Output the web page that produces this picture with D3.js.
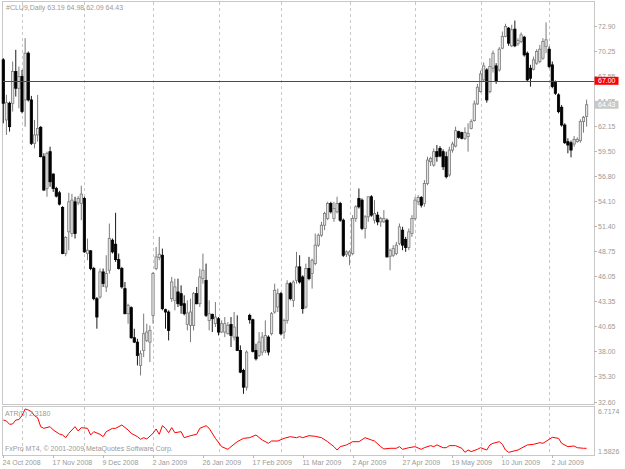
<!DOCTYPE html>
<html>
<head>
<meta charset="utf-8">
<script src="https://cdn.jsdelivr.net/npm/d3@7"></script>
<style>
  html, body { margin: 0; padding: 0; background: #fff; }
  svg { display: block; font-family: "Liberation Sans", Arial, sans-serif; }
</style>
</head>
<body>
<svg id="chart" width="625" height="469"></svg>
<script>
(function () {
  "use strict";

  // ---- data (one entry per daily bar) ----
  var symbol = "#CLU9,Daily";
  var opens = [
    69.25, 62.80, 64.59, 64.59, 67.99, 66.20, 67.46, 64.95, 69.96, 64.95,
    60.29, 61.19, 62.01, 58.86, 55.45, 59.40, 57.00, 55.45, 54.99, 53.41,
    48.47, 50.80, 50.62, 54.02, 53.91, 53.84, 54.38, 48.47, 48.76, 46.86,
    43.63, 43.81, 46.50, 44.89, 46.68, 49.90, 49.47, 47.82, 46.86, 44.71,
    42.02, 42.67, 39.44, 38.97, 36.47, 38.08, 39.15, 38.97, 41.84, 46.86,
    48.04, 48.29, 42.45, 42.20, 43.63, 43.45, 44.35, 44.17, 43.09, 40.88,
    40.76, 40.76, 44.17, 43.09, 45.78, 45.60, 41.30, 41.95, 40.95, 41.48,
    40.05, 40.05, 39.87, 40.87, 39.51, 39.51, 38.08, 35.93, 34.14, 41.84,
    41.37, 38.08, 37.54, 37.90, 38.08, 39.51, 39.87, 42.20, 42.74, 44.17,
    40.05, 41.30, 45.24, 43.45, 45.60, 47.04, 45.96, 42.74, 46.86, 46.32,
    47.39, 49.37, 50.44, 51.51, 52.23, 53.84, 52.23, 52.95, 53.84, 52.05,
    48.40, 48.29, 48.47, 52.23, 54.38, 54.20, 51.16, 52.41, 54.56, 52.05,
    52.59, 51.87, 51.87, 52.05, 48.18, 48.29, 48.47, 49.54, 50.98, 49.97,
    49.11, 50.62, 52.23, 54.02, 54.49, 53.84, 55.99, 58.32, 57.96, 59.40,
    59.75, 59.40, 58.86, 56.89, 59.57, 60.00, 61.54, 61.44, 60.83, 61.01,
    61.90, 62.73, 64.52, 65.84, 67.10, 68.17, 65.84, 68.35, 68.60, 68.17,
    70.50, 71.75, 72.65, 70.75, 72.54, 70.97, 71.22, 71.68, 69.96, 68.35,
    68.24, 68.89, 69.07, 69.43, 70.68, 70.39, 68.71, 66.81, 65.49, 64.16,
    62.26, 60.47, 60.36, 60.22, 60.47, 60.58, 62.62, 63.19
  ];
  var highs = [
    69.43, 65.49, 64.77, 69.07, 70.32, 68.53, 68.17, 71.57, 70.14, 65.38,
    62.80, 65.49, 62.15, 59.22, 59.40, 59.93, 57.07, 55.63, 55.20, 53.56,
    50.33, 54.99, 54.88, 54.56, 54.63, 55.74, 54.56, 50.08, 48.83, 47.04,
    43.81, 46.86, 46.86, 48.29, 51.69, 50.08, 52.84, 48.47, 47.04, 45.42,
    43.09, 42.81, 40.41, 39.33, 38.08, 42.02, 40.94, 40.76, 46.50, 49.18,
    50.26, 49.00, 42.56, 42.38, 45.96, 45.78, 45.78, 45.06, 43.99, 43.45,
    43.63, 44.35, 44.89, 46.86, 48.47, 47.39, 43.45, 42.02, 43.27, 41.66,
    41.30, 41.66, 41.12, 41.66, 42.20, 41.84, 38.62, 36.11, 38.08, 42.02,
    41.48, 38.80, 40.05, 40.05, 41.30, 39.69, 42.20, 45.24, 44.71, 44.35,
    41.48, 45.60, 45.42, 45.60, 48.65, 48.29, 46.14, 47.39, 48.11, 47.93,
    50.62, 50.62, 51.87, 52.95, 54.02, 54.02, 54.02, 54.56, 54.02, 52.23,
    48.82, 48.82, 52.59, 53.66, 55.45, 54.38, 52.59, 54.56, 54.74, 54.20,
    52.95, 52.41, 53.13, 52.23, 49.00, 49.36, 49.72, 51.69, 51.34, 50.26,
    51.16, 52.59, 54.56, 54.74, 54.63, 56.35, 58.86, 58.86, 59.75, 60.11,
    60.00, 59.65, 59.40, 59.93, 60.47, 62.08, 61.65, 61.54, 62.01, 62.44,
    62.87, 64.88, 66.67, 68.10, 68.96, 68.35, 69.43, 70.25, 68.89, 70.61,
    72.29, 73.12, 72.76, 73.01, 73.47, 71.57, 72.18, 71.83, 70.14, 68.71,
    69.60, 70.39, 70.86, 71.57, 73.26, 70.68, 69.07, 67.03, 65.66, 64.41,
    62.44, 60.83, 60.58, 61.08, 60.94, 62.87, 63.23, 64.98
  ];
  var lows = [
    62.44, 61.19, 61.55, 63.70, 65.31, 64.05, 63.51, 62.08, 64.77, 60.11,
    59.75, 60.47, 58.79, 55.20, 54.56, 55.63, 55.09, 54.49, 53.63, 48.40,
    48.18, 48.83, 50.26, 50.08, 53.66, 52.05, 48.54, 47.75, 46.68, 43.45,
    40.41, 43.63, 44.89, 44.35, 46.32, 48.47, 47.57, 46.75, 44.71, 41.95,
    40.94, 39.33, 38.87, 36.47, 35.39, 37.36, 38.97, 36.83, 40.94, 46.68,
    47.75, 42.38, 40.41, 39.15, 43.28, 42.38, 42.74, 42.02, 41.84, 40.23,
    38.97, 40.23, 43.02, 42.74, 45.24, 41.66, 40.23, 40.05, 40.59, 39.69,
    39.94, 39.51, 39.80, 38.44, 39.15, 38.01, 35.64, 33.42, 33.78, 40.95,
    37.86, 37.00, 37.36, 37.54, 37.79, 37.54, 39.69, 42.02, 42.20, 39.69,
    39.33, 40.95, 43.45, 42.74, 45.24, 45.24, 42.02, 42.56, 45.60, 44.71,
    47.21, 49.18, 50.26, 50.98, 52.05, 52.77, 51.87, 52.77, 51.87, 48.11,
    48.11, 47.21, 48.29, 51.87, 53.30, 50.98, 50.08, 51.87, 52.41, 51.69,
    51.51, 51.34, 51.76, 48.04, 46.68, 48.11, 48.29, 49.36, 48.83, 48.65,
    48.83, 50.26, 52.05, 53.66, 53.41, 53.49, 55.81, 57.85, 57.78, 58.32,
    58.79, 57.43, 56.53, 56.71, 59.29, 59.86, 60.79, 60.72, 60.65, 59.40,
    61.79, 62.62, 64.41, 65.74, 66.92, 64.66, 65.66, 67.89, 66.67, 67.99,
    70.39, 71.68, 70.75, 70.61, 70.61, 70.75, 71.04, 69.60, 66.92, 66.38,
    68.10, 68.71, 68.89, 69.25, 69.96, 68.35, 66.20, 65.49, 63.51, 62.08,
    60.22, 59.22, 58.79, 59.93, 60.36, 60.36, 61.44, 62.09
  ];
  var closes = [
    64.59, 64.66, 62.08, 67.99, 66.20, 67.46, 63.70, 69.96, 64.95, 60.29,
    61.19, 61.90, 58.86, 55.28, 59.22, 56.17, 55.45, 54.63, 53.77, 48.47,
    50.19, 54.02, 54.20, 50.62, 54.38, 54.85, 48.65, 48.83, 46.86, 43.63,
    41.66, 46.50, 45.25, 46.32, 50.08, 48.65, 47.82, 46.86, 44.89, 42.02,
    42.92, 39.44, 38.97, 37.54, 37.72, 39.87, 40.05, 40.23, 46.32, 48.11,
    48.40, 42.56, 42.20, 40.23, 45.42, 44.89, 43.09, 42.92, 42.02, 42.10,
    42.20, 44.17, 43.09, 45.96, 46.68, 41.84, 42.02, 41.48, 41.66, 40.05,
    40.95, 40.95, 40.77, 39.69, 40.59, 38.08, 35.75, 34.14, 37.90, 41.37,
    37.97, 37.18, 38.98, 39.51, 39.69, 37.90, 42.02, 44.53, 44.17, 39.87,
    41.30, 45.24, 43.63, 45.42, 47.04, 45.42, 42.56, 46.86, 45.78, 47.75,
    49.37, 50.44, 51.51, 52.77, 53.84, 52.95, 53.30, 53.84, 52.05, 48.29,
    48.65, 48.65, 52.23, 53.48, 53.48, 51.16, 52.41, 54.56, 52.59, 52.77,
    51.87, 52.23, 52.23, 48.11, 48.82, 49.00, 49.37, 51.34, 49.37, 49.11,
    50.80, 52.23, 54.20, 54.49, 53.66, 55.99, 58.50, 58.68, 59.40, 58.86,
    58.93, 57.78, 56.71, 59.57, 60.22, 61.65, 60.94, 60.83, 61.44, 61.37,
    62.62, 64.52, 66.31, 67.74, 68.60, 64.95, 68.53, 69.96, 66.92, 70.39,
    71.75, 72.83, 71.04, 72.47, 70.75, 71.32, 71.93, 69.78, 67.10, 67.28,
    69.25, 70.14, 70.39, 71.22, 71.40, 68.53, 66.38, 65.66, 63.69, 62.26,
    60.36, 60.11, 59.57, 60.72, 60.72, 62.62, 63.09, 64.43
  ];

  var dateLabels = ["24 Oct 2008", "17 Nov 2008", "9 Dec 2008", "2 Jan 2009",
    "26 Jan 2009", "17 Feb 2009", "11 Mar 2009", "2 Apr 2009", "27 Apr 2009",
    "19 May 2009", "10 Jun 2009", "2 Jul 2009"];
  var dateLabelBars = [0, 16, 32, 48, 64, 80, 96, 112, 128, 144, 160, 176];
  var monthStartBars = [6, 26, 48, 69, 89, 111, 132, 153, 175];

  var priceTicks = [72.90, 70.25, 67.55, 64.85, 62.15, 59.50, 56.80, 54.10,
    51.40, 48.75, 46.05, 43.35, 40.65, 38.00, 35.30, 32.60];
  var levelLine = 67.00;

  // ATR(8) line, read at the bars where it turns
  var atrBars = [0, 1, 2, 3, 4, 5, 6, 7, 8, 9, 10, 11, 12, 13, 15, 16, 18, 19, 20, 21,
    23, 24, 25, 27, 28, 29, 31, 32, 33, 35, 36, 38, 40, 41, 43, 44, 45, 46, 48, 49,
    50, 51, 52, 53, 54, 55, 57, 58, 60, 62, 63, 65, 66, 68, 70, 72, 73, 75, 77, 79,
    81, 83, 85, 86, 88, 90, 92, 94, 95, 96, 98, 100, 102, 104, 106, 107, 108, 110, 112, 114,
    116, 118, 119, 121, 122, 124, 126, 127, 128, 130, 132, 134, 135, 137, 138, 139, 141, 142, 143, 145,
    147, 148, 149, 150, 152, 153, 155, 156, 157, 159, 160, 161, 162, 165, 166, 168, 170, 172, 173, 175,
    176, 178, 179, 181, 183, 184, 186, 187];
  var atrValues = [5.35, 5.24, 4.85, 4.89, 5.35, 5.40, 5.86, 6.64, 6.52, 6.33, 5.86, 5.62, 4.57, 4.38, 4.57, 4.19, 3.72, 3.60, 3.29, 3.80,
    4.57, 4.07, 4.46, 4.38, 3.60, 3.99, 3.68, 3.41, 3.99, 4.38, 4.38, 4.77, 4.19, 3.80, 3.41, 3.10, 3.29, 3.13, 3.80, 4.30,
    3.68, 4.69, 4.38, 3.87, 4.46, 3.87, 3.99, 3.29, 3.52, 3.68, 4.38, 4.69, 4.38, 3.21, 2.24, 1.93, 2.24, 2.82, 3.21, 3.29,
    3.60, 3.02, 2.63, 2.90, 2.90, 3.21, 3.41, 3.29, 3.41, 3.29, 3.52, 3.45, 3.29, 2.82, 2.24, 1.85, 2.24, 2.44, 2.82, 2.82,
    3.29, 3.02, 2.90, 2.24, 1.97, 2.05, 2.05, 2.24, 1.93, 2.12, 2.24, 1.93, 2.12, 2.36, 2.24, 2.44, 2.12, 2.12, 2.36, 2.36,
    2.05, 1.58, 1.85, 1.66, 1.93, 2.12, 1.85, 2.44, 2.63, 2.82, 2.51, 1.85, 1.58, 1.85, 2.05, 2.44, 2.51, 2.71, 2.63, 3.10,
    3.33, 3.21, 2.63, 2.24, 2.32, 2.12, 2.05, 2.05];
  var atrMax = 6.7174;
  var atrMin = 1.5826;
  var atrCurrent = 2.3180;

  // ---- layout ----
  var W = 625, H = 469;
  var L = 2, R = 594;
  var mainTop = 1, mainBottom = 404;
  var subTop = 406, subBottom = 455;
  var textColor = "#9a9a9a";
  var frameColor = "#c8c8c8";

  var svg = d3.select("#chart");
  svg.append("rect").attr("width", W).attr("height", H).attr("fill", "#fff");

  var x = d3.scaleLinear().domain([0, opens.length - 1]).range([3.3, 586.6]);
  var y = d3.scaleLinear().domain([32.6, 72.9]).range([401.5, 25.8]);
  var ya = d3.scaleLinear().domain([atrMin, atrMax]).range([452.3, 408.3]);

  // frames
  svg.append("rect")
    .attr("x", L + 0.5).attr("y", mainTop + 0.5)
    .attr("width", R - L).attr("height", mainBottom - mainTop)
    .attr("fill", "none").attr("stroke", frameColor);
  svg.append("rect")
    .attr("x", L + 0.5).attr("y", subTop + 0.5)
    .attr("width", R - L).attr("height", subBottom - subTop)
    .attr("fill", "none").attr("stroke", frameColor);

  // vertical grid at month starts, in both windows
  var grid = svg.append("g").attr("stroke", "#c8c8c8").attr("stroke-dasharray", "3,3");
  monthStartBars.forEach(function (b) {
    var gx = Math.round(x(b)) + 0.5;
    grid.append("line").attr("x1", gx).attr("x2", gx).attr("y1", mainTop + 1).attr("y2", mainBottom);
    grid.append("line").attr("x1", gx).attr("x2", gx).attr("y1", subTop + 1).attr("y2", subBottom);
  });

  // candles
  var bars = d3.range(opens.length).map(function (i) {
    return { i: i, o: opens[i], h: highs[i], l: lows[i], c: closes[i] };
  });
  var candles = svg.append("g").selectAll("g").data(bars).enter().append("g");
  candles.append("line")
    .attr("x1", function (d) { return x(d.i); })
    .attr("x2", function (d) { return x(d.i); })
    .attr("y1", function (d) { return y(d.h); })
    .attr("y2", function (d) { return y(d.l); })
    .attr("stroke", function (d) { return d.c >= d.o ? "#7a7a7a" : "#1a1a1a"; })
    .attr("stroke-width", 1);
  candles.append("rect")
    .attr("x", function (d) { return x(d.i) - 1.15; })
    .attr("width", 2.3)
    .attr("y", function (d) { return y(Math.max(d.o, d.c)); })
    .attr("height", function (d) { return Math.max(0.8, Math.abs(y(d.o) - y(d.c))); })
    .attr("fill", function (d) { return d.c >= d.o ? "#e4e4e4" : "#000"; })
    .attr("stroke", function (d) { return d.c >= d.o ? "#7a7a7a" : "#000"; })
    .attr("stroke-width", 0.8);

  // level line, drawn over the candles like the terminal does
  var levelY = Math.round(y(levelLine)) + 0.5;
  svg.append("path")
    .attr("d", "M" + (L + 1) + "," + levelY + "H" + R)
    .style("stroke", "rgb(255,0,0)")
    .style("stroke-width", "1px")
    .style("fill", "none")
    .attr("shape-rendering", "crispEdges");

  // ATR line
  var atrLine = d3.line()
    .x(function (d, k) { return x(atrBars[k]); })
    .y(function (d) { return ya(d); });
  svg.append("path")
    .attr("d", atrLine(atrValues))
    .attr("fill", "none")
    .attr("stroke", "#ff0000")
    .attr("stroke-width", 1);

  // price axis
  var axis = svg.append("g").attr("font-size", 7).attr("fill", textColor);
  priceTicks.forEach(function (v) {
    var ty = Math.round(y(v)) + 0.5;
    svg.append("line").attr("x1", R).attr("x2", R + 3).attr("y1", ty).attr("y2", ty).attr("stroke", "#b8b8b8");
    axis.append("text").attr("x", 598).attr("y", ty + 2.5).text(v.toFixed(2));
  });
  [atrMax, atrMin].forEach(function (v, k) {
    var ty = k === 0 ? 413.5 : 453.5;
    axis.append("text").attr("x", 598).attr("y", ty).text(v.toFixed(4));
  });

  // level and last price boxes (they sit over the nearest scale labels)
  function priceBox(v, fill) {
    var cy = y(v);
    svg.append("rect").attr("x", R + 0.5).attr("y", cy - 4).attr("width", 24).attr("height", 8).attr("fill", fill);
    svg.append("text").attr("x", 598).attr("y", cy + 2.5).attr("font-size", 7).attr("fill", "#fff").text(v.toFixed(2));
  }
  priceBox(levelLine, "#ff0000");
  priceBox(closes[closes.length - 1], "#c8c8c8");

  // time axis
  var timeAxis = svg.append("g").attr("font-size", 7).attr("fill", textColor);
  dateLabelBars.forEach(function (b, k) {
    var tx = Math.round(x(b)) + 0.5;
    svg.append("line").attr("x1", tx).attr("x2", tx).attr("y1", subBottom).attr("y2", subBottom + 3).attr("stroke", "#b8b8b8");
    timeAxis.append("text").attr("x", tx - 1).attr("y", 465).text(dateLabels[k]);
  });

  // captions
  var last = bars[bars.length - 1];
  svg.append("text").attr("x", 6).attr("y", 10).attr("font-size", 7).attr("fill", textColor)
    .text(symbol + "  " + [last.o, last.h, last.l, last.c].map(function (v) { return v.toFixed(2); }).join(" "));
  svg.append("text").attr("x", 5).attr("y", 416).attr("font-size", 7).attr("fill", textColor)
    .text("ATR(8) " + atrCurrent.toFixed(4));
  svg.append("text").attr("x", 5).attr("y", 451).attr("font-size", 7).attr("fill", textColor)
    .text("FxPro MT4, \u00a9 2001-2009 MetaQuotes Software Corp.");
}());
</script>
</body>
</html>
